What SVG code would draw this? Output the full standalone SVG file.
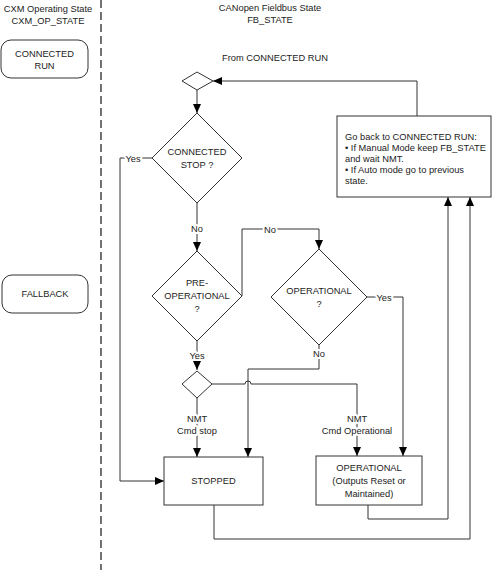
<svg xmlns="http://www.w3.org/2000/svg" width="498" height="570" viewBox="0 0 498 570">
<defs>
<style>
text{font-family:"Liberation Sans",Arial,sans-serif;font-size:9.3px;fill:#222;}
.c{text-anchor:middle;}
.shape{fill:#fff;stroke:#333;stroke-width:1;}
.conn{fill:none;stroke:#333;stroke-width:1;}
.lbl{text-anchor:middle;paint-order:stroke;stroke:#fff;stroke-width:4px;stroke-linejoin:round;}
</style>
<marker id="arr" markerUnits="userSpaceOnUse" markerWidth="10" markerHeight="10" refX="9" refY="4" orient="auto">
<path d="M0,0 L9,4 L0,8 z" fill="#000"/>
</marker>
</defs>
<rect width="498" height="570" fill="#fff"/>
<line x1="101" y1="0" x2="101" y2="570" stroke="#444" stroke-width="1.5" stroke-dasharray="8,4"/>
<g id="headers">
<text class="c" x="48" y="12">CXM Operating State</text>
<text class="c" x="48" y="24">CXM_OP_STATE</text>
<text class="c" x="270" y="11">CANopen Fieldbus State</text>
<text class="c" x="270" y="23">FB_STATE</text>
<text class="c" x="275" y="61">From CONNECTED RUN</text>
</g>
<g id="connected-run">
<rect class="shape" x="1" y="40" width="87" height="38" rx="10"/>
<text class="c" x="44.5" y="57">CONNECTED</text>
<text class="c" x="44.5" y="69">RUN</text>
</g>
<g id="fallback">
<rect class="shape" x="2" y="275" width="86" height="38" rx="10"/>
<text class="c" x="45" y="297">FALLBACK</text>
</g>
<g id="connectors">
<path class="conn" d="M417,116 V81 H213" marker-end="url(#arr)"/>
<path class="conn" d="M197,90 V113" marker-end="url(#arr)"/>
<path class="conn" d="M152,158 H120 V481 H164" marker-end="url(#arr)"/>
<path class="conn" d="M197,203 V251" marker-end="url(#arr)"/>
<path class="conn" d="M242,296 V229 H319 V249" marker-end="url(#arr)"/>
<path class="conn" d="M367,297 H403 V456" marker-end="url(#arr)"/>
<path class="conn" d="M319,345 V369 H248 V457" marker-end="url(#arr)"/>
<path class="conn" d="M197,341 V370" marker-end="url(#arr)"/>
<path class="conn" d="M212,384 H245 A3,3 0 0 1 251,384 H357 V456" marker-end="url(#arr)"/>
<path class="conn" d="M197,398 V457" marker-end="url(#arr)"/>
<path class="conn" d="M368,505 V519 H448 V197" marker-end="url(#arr)"/>
<path class="conn" d="M214,505 V539 H470 V197" marker-end="url(#arr)"/>
<text class="lbl" x="133" y="161.5">Yes</text>
<text class="lbl" x="197" y="231.5">No</text>
<text class="lbl" x="270" y="232.5">No</text>
<text class="lbl" x="384" y="300.5">Yes</text>
<text class="lbl" x="319" y="357">No</text>
<text class="lbl" x="197" y="358.5">Yes</text>
<text class="lbl" x="197" y="421.5">NMT</text>
<text class="lbl" x="197" y="434">Cmd stop</text>
<text class="lbl" x="357" y="421.5">NMT</text>
<text class="lbl" x="357" y="434">Cmd Operational</text>
</g>
<g id="merge-top">
<polygon class="shape" points="182,81 197,72 213,81 197,90"/>
</g>
<g id="connected-stop">
<polygon class="shape" points="197,113 242,158 197,203 152,158"/>
<text class="c" x="197" y="155">CONNECTED</text>
<text class="c" x="197" y="168">STOP ?</text>
</g>
<g id="pre-operational">
<polygon class="shape" points="197,251 242,296 197,341 152,296"/>
<text class="c" x="197" y="286">PRE-</text>
<text class="c" x="197" y="299">OPERATIONAL</text>
<text class="c" x="197" y="312">?</text>
</g>
<g id="operational-q">
<polygon class="shape" points="319,249 367,297 319,345 271,297"/>
<text class="c" x="319" y="294">OPERATIONAL</text>
<text class="c" x="319" y="307">?</text>
</g>
<g id="merge-nmt">
<polygon class="shape" points="182,384 197,371 212,384 197,398"/>
</g>
<g id="stopped">
<rect class="shape" x="164" y="457" width="99" height="48"/>
<text class="c" x="213.5" y="484">STOPPED</text>
</g>
<g id="operational">
<rect class="shape" x="316" y="456" width="106" height="49"/>
<text class="c" x="369" y="471">OPERATIONAL</text>
<text class="c" x="369" y="484">(Outputs Reset or</text>
<text class="c" x="369" y="497">Maintained)</text>
</g>
<g id="go-back">
<rect class="shape" x="337" y="116" width="154" height="81"/>
<text x="345" y="140">Go back to CONNECTED RUN:</text>
<text x="345" y="151">• If Manual Mode keep FB_STATE</text>
<text x="345" y="162">and wait NMT.</text>
<text x="345" y="173">• If Auto mode go to previous</text>
<text x="345" y="184">state.</text>
</g>
</svg>
